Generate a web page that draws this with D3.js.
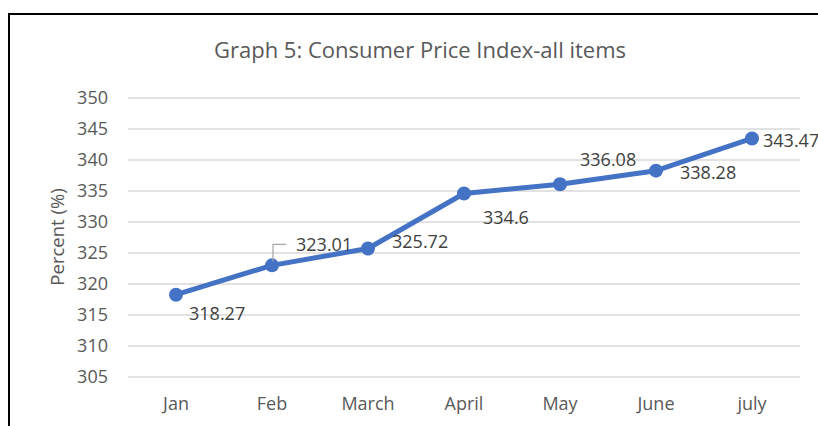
<!DOCTYPE html>
<html>
<meta charset="utf-8">
<style>
  body { margin: 0; padding: 0; background: #fff; }
  text { font-family: "Open Sans", sans-serif; fill: #595959; }
  .title { font-size: 22px; }
  .tick text { font-size: 18px; }
  .lbl { font-size: 18px; fill: #404040; }
</style>
<body>
<div id="chart"></div>
<script src="https://d3js.org/d3.v7.min.js"></script>
<script>
// data
var months = ["Jan", "Feb", "March", "April", "May", "June", "july"];
var cpi = [318.27, 323.01, 325.72, 334.6, 336.08, 338.28, 343.47];
var yTicks = [305, 310, 315, 320, 325, 330, 335, 340, 345, 350];
// label offsets relative to point (dx, dy)
var labelPos = [[13, 19], [24, -21], [24, -7], [19, 24], [20, -25], [24, 2], [11, 2]];

var W = 818, H = 426;

var svg = d3.select("#chart").append("svg")
    .attr("width", W).attr("height", H);

// outer frame
svg.append("rect")
    .attr("x", 9).attr("y", 14)
    .attr("width", 830).attr("height", 430)
    .attr("fill", "none").attr("stroke", "#000").attr("stroke-width", 2);

var x = d3.scaleBand().domain(months).range([128, 800]);
var y = d3.scaleLinear().domain([305, 350]).range([377, 98]);

// grid
svg.append("g").selectAll("line").data(yTicks).enter().append("line")
    .attr("x1", 128).attr("x2", 800)
    .attr("y1", function(d) { return y(d); })
    .attr("y2", function(d) { return y(d); })
    .attr("stroke", "#d9d9d9").attr("stroke-width", 1.3);

// y axis
var yAxis = svg.append("g")
    .attr("transform", "translate(128,0)")
    .call(d3.axisLeft(y).tickValues(yTicks).tickSize(0).tickPadding(20));
yAxis.select(".domain").remove();

// x axis
var xAxis = svg.append("g")
    .attr("transform", "translate(0,377)")
    .call(d3.axisBottom(x).tickSize(0).tickPadding(20));
xAxis.select(".domain").remove();

// title
svg.append("text")
    .attr("class", "title")
    .attr("x", 420).attr("y", 58)
    .attr("text-anchor", "middle")
    .text("Graph 5: Consumer Price Index-all items");

// y axis title
svg.append("text")
    .attr("transform", "rotate(-90)")
    .attr("x", -237).attr("y", 64)
    .attr("text-anchor", "middle")
    .style("font-size", "18.5px")
    .text("Percent (%)");

var cx = function(i) { return x(months[i]) + x.bandwidth() / 2; };

// line
svg.append("path")
    .datum(cpi)
    .attr("d", d3.line()
        .x(function(d, i) { return cx(i); })
        .y(function(d) { return y(d); }))
    .attr("fill", "none")
    .attr("stroke", "#4472c4")
    .attr("stroke-width", 5)
    .attr("stroke-linejoin", "round");

svg.append("g").selectAll("circle").data(cpi).enter().append("circle")
    .attr("cx", function(d, i) { return cx(i); })
    .attr("cy", function(d) { return y(d); })
    .attr("r", 7)
    .attr("fill", "#4472c4");

// leader line for Feb label
svg.append("polyline")
    .attr("points", [[cx(1) + 1, y(cpi[1]) - 4], [cx(1) + 1, y(cpi[1]) - 21], [cx(1) + 14, y(cpi[1]) - 21]].join(" "))
    .attr("fill", "none").attr("stroke", "#a6a6a6").attr("stroke-width", 1.2);

// data labels
svg.append("g").selectAll("text").data(cpi).enter().append("text")
    .attr("class", "lbl")
    .attr("x", function(d, i) { return cx(i) + labelPos[i][0]; })
    .attr("y", function(d, i) { return y(d) + labelPos[i][1]; })
    .attr("dy", "0.35em")
    .text(function(d) { return d; });
</script>
</body>
</html>
